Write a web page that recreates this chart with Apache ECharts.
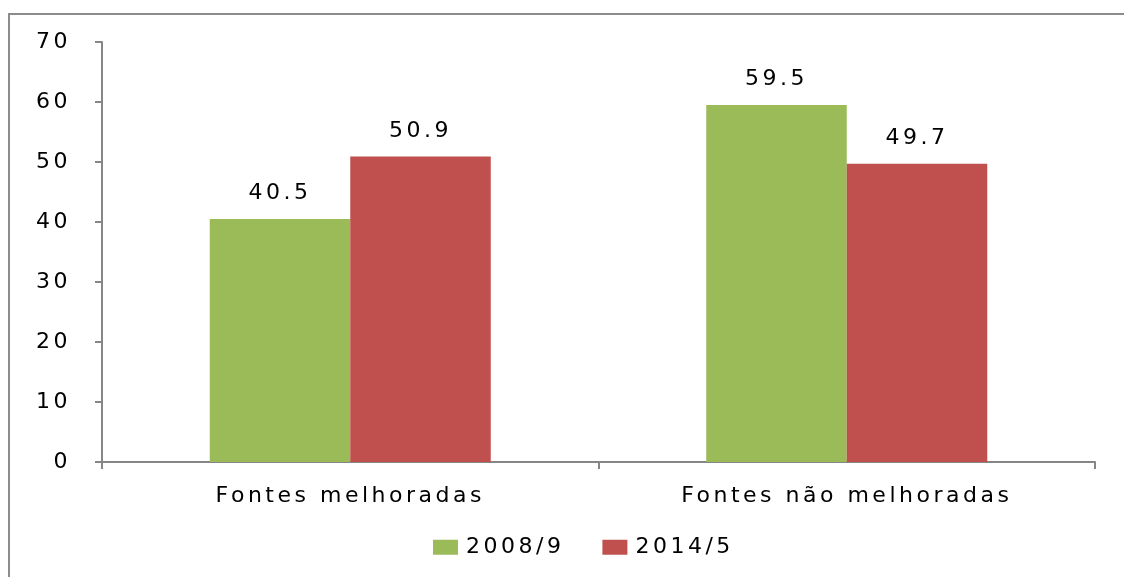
<!DOCTYPE html>
<html>
<head>
<meta charset="utf-8">
<script src="https://cdn.jsdelivr.net/npm/echarts@6/dist/echarts.min.js"></script>
<style>
  html, body { margin: 0; padding: 0; background: #fff; overflow: hidden; }
  #frame {
    position: absolute; left: 8px; top: 13px; width: 1300px; height: 700px;
    border: 2px solid #8c8c8c; box-sizing: border-box;
  }
  #chart { position: absolute; left: 0; top: 0; width: 1124px; height: 577px; }
</style>
</head>
<body>
<div id="frame"></div>
<div id="chart"></div>
<script>
const categories = ["Fontes melhoradas", "Fontes não melhoradas"];
const series2008 = [40.5, 59.5];
const series2014 = [50.9, 49.7];
const yTicks = [0, 10, 20, 30, 40, 50, 60, 70];

// the original text is drawn wide, so add a little letter spacing to canvas text
const spacing = "3.5px";
const proto = CanvasRenderingContext2D.prototype;
const origFill = proto.fillText;
const origMeasure = proto.measureText;
proto.fillText = function () { this.letterSpacing = spacing; return origFill.apply(this, arguments); };
proto.measureText = function () { this.letterSpacing = spacing; return origMeasure.apply(this, arguments); };

const chart = echarts.init(document.getElementById("chart"));
const font = "DejaVu Sans";
const axisColor = "#868686";
const fs = 22;

chart.setOption({
  animation: false,
  textStyle: { fontFamily: font },
  grid: { left: 102, right: 29, top: 42, bottom: 115, containLabel: false },
  legend: {
    bottom: 12,
    left: 428,
    icon: "rect",
    itemWidth: 25,
    itemHeight: 15,
    itemGap: 38,
    textStyle: { fontSize: fs, color: "#000", fontFamily: font, padding: [0, 0, 0, 3] },
    data: ["2008/9", "2014/5"]
  },
  xAxis: {
    type: "category",
    data: categories,
    axisLine: { lineStyle: { color: axisColor, width: 2 } },
    axisTick: { show: true, length: 7, lineStyle: { color: axisColor, width: 2 } },
    axisLabel: { fontSize: fs, color: "#000", margin: 22 }
  },
  yAxis: {
    type: "value",
    min: yTicks[0],
    max: yTicks[yTicks.length - 1],
    interval: 10,
    axisLine: { show: true, lineStyle: { color: axisColor, width: 2 } },
    axisTick: { show: true, length: 7, lineStyle: { color: axisColor, width: 2 } },
    axisLabel: { fontSize: fs, color: "#000", margin: 31 },
    splitLine: { show: false }
  },
  series: [
    {
      name: "2008/9",
      type: "bar",
      data: series2008,
      barWidth: "28.3%",
      barGap: "0%",
      itemStyle: { color: "#9bbb59" },
      label: { show: true, position: "top", distance: 13, fontSize: fs, color: "#000", formatter: p => p.value.toFixed(1) }
    },
    {
      name: "2014/5",
      type: "bar",
      data: series2014,
      barWidth: "28.3%",
      barGap: "0%",
      itemStyle: { color: "#c0504d" },
      label: { show: true, position: "top", distance: 13, fontSize: fs, color: "#000", formatter: p => p.value.toFixed(1) }
    }
  ]
});
</script>
</body>
</html>
